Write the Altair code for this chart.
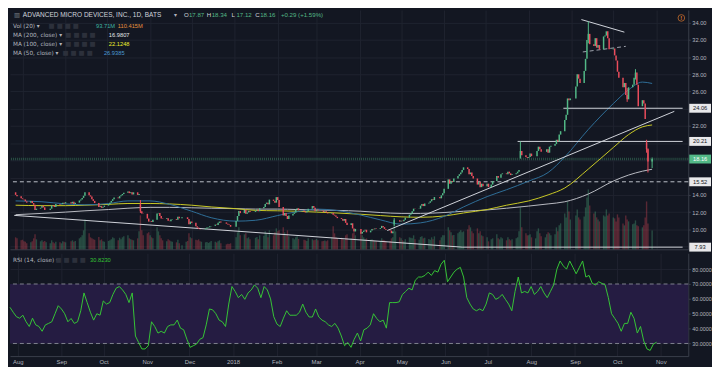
import altair as alt
import numpy as np
import pandas as pd

# ---------------- data ----------------
HOLIDAYS = ["2017-09-04", "2017-11-23", "2017-12-25", "2018-01-01", "2018-01-15",
            "2018-02-19", "2018-03-30", "2018-05-28", "2018-07-04", "2018-09-03"]

first_open = 14.3

close_2017_07 = [14.0, 13.85, 13.6]
close_2017_08 = [13.5, 13.45, 13.25, 13.1, 13.3, 13.05, 12.85, 12.25, 12.4, 12.5, 12.75, 12.55,
                 12.25, 12.25, 12.4, 12.8, 12.75, 12.6, 12.95, 12.85, 12.9, 13.1, 13.0]
close_2017_09 = [13.15, 13.0, 13.2, 12.95, 13.1, 13.35, 13.45, 13.65, 13.9, 14.3, 13.95, 13.8,
                 13.5, 13.3, 13.05, 12.6, 12.7, 12.5, 12.6, 12.75]
close_2017_10 = [12.95, 13.1, 13.3, 13.5, 13.7, 13.6, 13.85, 13.95, 14.1, 14.25, 14.4, 14.2,
                 14.3, 14.05, 14.3, 14.0, 14.1, 12.1, 11.85, 11.8, 11.25, 10.9]
close_2017_11 = [10.95, 10.85, 11.1, 11.85, 11.9, 11.55, 11.25, 11.2, 11.3, 11.0, 10.95, 11.15,
                 11.2, 11.1, 11.45, 11.3, 11.4, 11.4, 11.2, 10.6, 10.9]
close_2017_12 = [10.75, 10.35, 10.2, 10.05, 10.0, 10.0, 10.1, 10.2, 10.25, 10.35, 10.4, 10.55,
                 10.5, 10.75, 10.9, 10.8, 10.65, 10.55, 10.5, 10.3]
close_2018_01 = [10.98, 11.55, 12.12, 11.88, 12.28, 11.82, 11.96, 12.14, 12.02, 12.15, 12.3, 12.1,
                 12.45, 12.6, 12.95, 13.1, 12.9, 13.45, 13.3, 13.1, 13.74]
close_2018_02 = [13.4, 12.6, 11.6, 11.9, 11.55, 11.2, 11.6, 11.8, 11.95, 12.3, 12.45, 12.2,
                 12.05, 11.95, 12.1, 12.4, 12.7, 12.5, 12.1]
close_2018_03 = [12.3, 12.2, 12.15, 12.0, 12.1, 11.95, 11.85, 11.9, 11.7, 11.6, 11.45, 11.3,
                 11.2, 11.0, 11.2, 10.75, 10.5, 10.7, 10.1, 9.75, 10.05]
close_2018_04 = [9.5, 9.7, 9.85, 9.95, 9.65, 9.85, 10.05, 10.0, 10.1, 10.05, 10.15, 10.4,
                 10.25, 10.05, 9.95, 9.85, 9.55, 9.75, 11.05, 11.05, 10.9]
close_2018_05 = [11.0, 10.95, 11.1, 11.35, 11.7, 11.85, 12.1, 12.4, 12.35, 12.4, 12.75, 12.95,
                 12.7, 13.0, 13.1, 13.25, 13.5, 13.4, 13.75, 13.6, 13.95, 14.2]
close_2018_06 = [14.7, 15.8, 15.3, 15.6, 15.5, 15.9, 16.2, 16.4, 16.6, 16.9, 17.2, 17.0,
                 16.4, 16.6, 16.2, 15.9, 15.2, 15.5, 14.9, 15.3, 15.0]
close_2018_07 = [15.3, 14.9, 15.2, 15.6, 16.2, 16.0, 16.0, 16.4, 16.5, 16.4, 16.7, 16.5,
                 16.3, 16.4, 16.5, 16.7, 16.9, 19.1, 18.6, 18.4, 18.3]
close_2018_08 = [18.4, 18.8, 18.5, 18.5, 19.1, 19.6, 19.3, 19.0, 19.0, 19.3, 18.9, 19.6,
                 19.7, 19.9, 20.4, 20.2, 21.0, 21.4, 22.7, 23.3, 25.2, 25.0, 25.2]
close_2018_09 = [26.6, 28.0, 27.5, 27.0, 28.4, 29.8, 32.0, 32.7, 31.5, 31.3, 32.2, 31.1,
                 31.4, 30.9, 32.4, 32.5, 33.0, 32.2, 30.9]
close_2018_10 = [31.0, 30.2, 29.6, 28.3, 27.6, 26.5, 27.0, 25.6, 25.1, 26.5, 26.8, 27.6,
                 28.2, 26.8, 24.3, 25.0, 24.6, 22.8, 19.3, 17.87, 18.16]

vol_2017_07 = [60, 55, 45]
vol_2017_08 = [48, 40, 38, 30, 35, 40, 55, 75, 50, 40, 45, 38, 42, 35, 30, 45, 35, 30, 38, 35, 30, 40, 38]
vol_2017_09 = [35, 40, 45, 38, 42, 55, 60, 70, 95, 150, 80, 60, 55, 50, 48, 62, 45, 50, 40, 38]
vol_2017_10 = [42, 45, 50, 60, 55, 45, 58, 50, 60, 65, 70, 55, 50, 48, 45, 55, 90, 170, 95, 70, 80, 85]
vol_2017_11 = [70, 60, 55, 110, 90, 70, 55, 45, 40, 50, 45, 40, 38, 35, 48, 30, 20, 38, 42, 80, 60]
vol_2017_12 = [55, 48, 45, 50, 40, 38, 35, 36, 32, 35, 42, 38, 34, 40, 45, 30, 25, 28, 26, 30]
vol_2018_01 = [60, 85, 110, 70, 75, 80, 55, 60, 50, 58, 62, 50, 70, 68, 90, 80, 60, 95, 70, 85, 105]
vol_2018_02 = [90, 95, 110, 85, 70, 95, 65, 55, 50, 60, 65, 52, 48, 45, 42, 55, 50, 45, 48]
vol_2018_03 = [52, 45, 40, 42, 44, 40, 45, 60, 115, 80, 60, 55, 58, 52, 48, 70, 75, 55, 80, 85, 70]
vol_2018_04 = [85, 70, 60, 50, 55, 48, 50, 45, 42, 40, 42, 55, 48, 45, 40, 42, 55, 60, 150, 90, 60]
vol_2018_05 = [55, 45, 40, 50, 60, 58, 55, 70, 50, 48, 62, 65, 55, 58, 52, 48, 60, 50, 65, 45, 60, 70]
vol_2018_06 = [70, 110, 95, 85, 70, 72, 80, 88, 95, 85, 90, 100, 120, 110, 90, 80, 105, 80, 90, 70, 65]
vol_2018_07 = [60, 40, 50, 55, 75, 55, 50, 60, 55, 45, 60, 50, 45, 50, 55, 60, 90, 210, 110, 80, 70]
vol_2018_08 = [70, 75, 60, 55, 90, 105, 80, 65, 60, 75, 85, 80, 70, 75, 110, 90, 120, 130, 180, 160, 240, 190, 150]
vol_2018_09 = [170, 200, 160, 150, 165, 210, 260, 300, 220, 180, 190, 160, 150, 140, 170, 165, 200, 170, 180]
vol_2018_10 = [160, 155, 140, 175, 160, 130, 120, 170, 150, 140, 125, 130, 145, 120, 115, 110, 120, 160, 240, 130, 94]

open_fix_dates = ["2017-10-25", "2018-04-26", "2018-07-26", "2018-10-25"]
open_fix_values = [12.9, 10.6, 18.3, 20.1]

wick_dates = ["2017-10-25", "2018-04-26", "2018-07-26", "2018-09-13", "2018-10-11",
              "2018-10-17", "2018-10-25", "2018-10-26", "2018-10-29"]
wick_high = [13.4, 11.3, 20.2, 34.14, 26.4, 28.6, 20.4, 19.4, 18.34]
wick_low = [11.9, 10.4, 18.2, 31.6, 24.8, 27.4, 18.9, 16.6, 17.12]

ma_dates = ["2017-07-27", "2017-08-15", "2017-09-01", "2017-09-15", "2017-10-02", "2017-10-16",
            "2017-11-01", "2017-11-15", "2017-12-01", "2017-12-15", "2018-01-02", "2018-01-16",
            "2018-02-01", "2018-02-15", "2018-03-01", "2018-03-15", "2018-04-02", "2018-04-16",
            "2018-05-01", "2018-05-15", "2018-06-01", "2018-06-15", "2018-07-02", "2018-07-16",
            "2018-08-01", "2018-08-15", "2018-08-27", "2018-09-13", "2018-10-01", "2018-10-12",
            "2018-10-22", "2018-10-29"]
ma200 = [11.7, 11.85, 12.0, 12.15, 12.3, 12.45, 12.55, 12.55, 12.5, 12.45, 12.4, 12.35,
         12.35, 12.3, 12.25, 12.2, 12.1, 11.95, 11.85, 11.85, 11.95, 12.1, 12.25, 12.45,
         12.7, 12.95, 13.2, 14.1, 15.6, 16.3, 16.75, 16.98]
ma100 = [12.8, 12.75, 12.75, 12.8, 12.9, 13.0, 13.0, 12.95, 12.8, 12.6, 12.4, 12.2,
         12.15, 12.1, 12.0, 11.9, 11.75, 11.6, 11.45, 11.4, 11.55, 11.9, 12.3, 12.8,
         13.3, 14.0, 14.8, 17.0, 19.5, 21.0, 21.9, 22.12]
ma50 = [13.3, 13.2, 12.95, 12.85, 13.0, 13.3, 13.3, 12.9, 12.1, 11.35, 10.95, 11.05,
        11.6, 12.05, 12.35, 12.2, 11.65, 11.1, 10.6, 10.75, 11.5, 12.6, 13.8, 14.6,
        15.6, 16.6, 18.4, 21.6, 24.6, 26.2, 27.1, 26.94]

rsi_values = [
    54.3, 51, 48, 47, 49, 44.6, 41.4, 47, 42.5, 41.4,
    38.2, 42.5, 43.5, 44.6, 50, 55.4, 53.2, 50, 44.6, 46.8,
    43.5, 44.6, 52, 64, 57.5, 51, 45.7, 50, 49, 58.6,
    56.5, 57.5, 63, 67.2, 68.3, 66, 63, 57.5, 64, 35,
    30.6, 26.3, 26.3, 28.5, 44.6, 41.4, 37, 38.2, 37, 41.4,
    42.5, 42.5, 45.7, 40.3, 39.2, 32.8, 27.4, 28.5, 29.6, 32.8,
    33.9, 42.5, 53.2, 52.6, 50, 45.7, 44.6, 41.4, 56.5, 68.3,
    65, 60.8, 63, 59.7, 64, 66, 69.4, 67.2, 60.8, 68.3,
    66, 60, 48, 43, 41.4, 47, 52, 49, 49, 49,
    51, 56.5, 51, 47.8, 47.8, 53.2, 47.8, 45.7, 44.6, 42.5,
    41.4, 43.5, 40.3, 35, 28.5, 30.6, 27.4, 32.8, 37,
    31.7, 39.2, 40.3, 42.5, 50, 46.8, 44.6, 45.7, 40.3, 57.5,
    57.5, 57.5, 58, 63, 65, 67.2, 66, 72.6, 74.7, 74.7,
    75.8, 78, 75.8, 79, 78, 83.3, 86, 71.5, 74.7, 78,
    80, 81.2, 74.7, 60.8, 56.5, 53.2, 52, 53.2, 52, 56.5,
    64, 63, 59.7, 60.8, 63, 59.7, 56.5, 52, 65, 74.7,
    64, 65, 64, 68.3, 63, 65, 68.3, 64, 60.8, 65,
    69.4, 80, 85.5, 82.2, 80, 85.5, 81.2, 76.9, 81.2, 85.5,
    74.7, 75.8, 70.4, 69.4, 71.5, 70.4, 69.4, 60.8, 50, 46.8,
    43.5, 38.2, 43.5, 43.5, 51, 46.8, 37, 41.4, 31.7, 26.3,
    25.3, 29.6, 30.82]
rsi_band = [30, 70]
rsi_ticks = [30, 40, 50, 60, 70, 80]

# drawings on the price pane
seg_x1 = ["2017-07-26", "2018-06-14", "2018-04-21", "2018-09-08", "2018-07-24", "2018-08-26"]
seg_x2 = ["2018-06-14", "2018-11-20", "2018-11-14", "2018-10-09", "2018-11-20", "2018-11-20"]
seg_y1 = [11.62, 7.93, 9.86, 34.36, 20.21, 24.06]
seg_y2 = [7.93, 7.93, 23.70, 32.9, 20.21, 24.06]
dash_x1 = ["2018-09-09"]
dash_x2 = ["2018-10-10"]
dash_y1 = [30.6]
dash_y2 = [31.25]
hline_dashed = [15.52]
level_badges = [24.06, 20.21, 15.52, 7.93]
last_price = 18.16
price_ticks = [8, 10, 12, 14, 16, 18, 20, 22, 24, 26, 28, 30, 32, 34]

tick_months = [(2017, 8), (2017, 9), (2017, 10), (2017, 11), (2017, 12), (2018, 1), (2018, 2),
               (2018, 3), (2018, 4), (2018, 5), (2018, 6), (2018, 7), (2018, 8), (2018, 9),
               (2018, 10), (2018, 11)]

symbol_title = "ADVANCED MICRO DEVICES, INC., 1D, BATS"
ohlc_letters = ["O", "H", "L", "C"]
ohlc_values = ["17.87", "18.34", "17.12", "18.16"]
ohlc_change = "+0.29 (+1.59%)"
vol_label = "Vol (20)"
vol_values = ["93.71M", "110.415M"]
ma_labels = ["MA (200, close)", "MA (100, close)", "MA (50, close)"]
ma_value_texts = ["16.9807", "22.1248", "26.9385"]
rsi_label = "RSI (14, close)"
rsi_value_text = "30.8230"

# ---------------- style ----------------
BG = "#131722"
GRID = "#1f2330"
SEP = "#3a3e4a"
TEXT = "#b2b5be"
UP = "#53b987"
DOWN = "#eb4d5c"
C200 = "#b9bbc2"
C100 = "#c9c925"
C50 = "#2f6e98"
RSI_C = "#36c436"
BAND = "#251c42"
DRAW = "#d1d4dc"
FONT = "Liberation Sans"
W = 686
H_PRICE = 242
H_RSI = 104

# ---------------- build tables ----------------
def trading_days(start, end):
    return pd.bdate_range(start, end, freq="C", holidays=HOLIDAYS)

segments = [
    ("2017-07-27", "2017-07-31", close_2017_07, vol_2017_07),
    ("2017-08-01", "2017-08-31", close_2017_08, vol_2017_08),
    ("2017-09-01", "2017-09-30", close_2017_09, vol_2017_09),
    ("2017-10-01", "2017-10-31", close_2017_10, vol_2017_10),
    ("2017-11-01", "2017-11-30", close_2017_11, vol_2017_11),
    ("2017-12-01", "2017-12-31", close_2017_12, vol_2017_12),
    ("2018-01-01", "2018-01-31", close_2018_01, vol_2018_01),
    ("2018-02-01", "2018-02-28", close_2018_02, vol_2018_02),
    ("2018-03-01", "2018-03-31", close_2018_03, vol_2018_03),
    ("2018-04-01", "2018-04-30", close_2018_04, vol_2018_04),
    ("2018-05-01", "2018-05-31", close_2018_05, vol_2018_05),
    ("2018-06-01", "2018-06-30", close_2018_06, vol_2018_06),
    ("2018-07-01", "2018-07-31", close_2018_07, vol_2018_07),
    ("2018-08-01", "2018-08-31", close_2018_08, vol_2018_08),
    ("2018-09-01", "2018-09-30", close_2018_09, vol_2018_09),
    ("2018-10-01", "2018-10-29", close_2018_10, vol_2018_10),
]

rows = []
for start, end, closes, vols in segments:
    days = trading_days(start, end)
    n = len(closes)
    if len(days) != n:
        idx = np.linspace(0, len(days) - 1, n).round().astype(int)
        days = days[idx]
    vols = list(vols)[:n] + [vols[-1]] * max(0, n - len(vols))
    for d, c, v in zip(days, closes, vols):
        rows.append((d, c, v))
df = pd.DataFrame(rows, columns=["date", "close", "vol"])
df["open"] = [first_open] + df["close"].tolist()[:-1]
for d, o in zip(open_fix_dates, open_fix_values):
    df.loc[df["date"] == pd.Timestamp(d), "open"] = o

wk = pd.DataFrame({"date": pd.to_datetime(wick_dates), "high": wick_high, "low": wick_low})
wk = wk.merge(df[["date", "open", "close"]], on="date", how="left")

ma_df = pd.DataFrame({"date": pd.to_datetime(ma_dates), "ma200": ma200, "ma100": ma100, "ma50": ma50})
rsi_df = pd.DataFrame({"date": pd.date_range("2017-07-26 12:00", "2018-10-29", periods=len(rsi_values)),
                       "rsi": rsi_values})
seg_df = pd.DataFrame({"x1": pd.to_datetime(seg_x1), "x2": pd.to_datetime(seg_x2), "y1": seg_y1, "y2": seg_y2})
dash_df = pd.DataFrame({"x1": pd.to_datetime(dash_x1), "x2": pd.to_datetime(dash_x2), "y1": dash_y1, "y2": dash_y2})
badge_df = pd.DataFrame({"p": level_badges, "lab": [f"{v:.2f}" for v in level_badges]})
last_df = pd.DataFrame({"p": [last_price], "lab": [f"{last_price:.2f}"]})

# ---------------- scales & axes ----------------
X_DOMAIN = [alt.DateTime(year=2017, month=7, date=26, hours=12),
            alt.DateTime(year=2018, month=11, date=20, hours=12)]
xscale = alt.Scale(domain=X_DOMAIN, nice=False)
month_ticks = [alt.DateTime(year=y, month=m, date=1) for (y, m) in tick_months]

x_axis_top = alt.Axis(values=month_ticks, labels=False, ticks=False, domain=True, domainColor=SEP,
                      grid=True, gridColor=GRID, title=None)
x_axis_bottom = alt.Axis(values=month_ticks, ticks=False, domain=True, domainColor=SEP, grid=True,
                         gridColor=GRID, title=None, labelFontSize=6, labelColor=TEXT, labelPadding=3,
                         labelOverlap=False, labelFlush=False,
                         labelExpr="month(datum.value) == 0 ? timeFormat(datum.value, '%Y') : timeFormat(datum.value, '%b')")

pscale = alt.Scale(domain=[7.68, 35.47], nice=False, zero=False)
price_axis = alt.Axis(orient="right", values=price_ticks, grid=True, gridColor=GRID, ticks=True, tickSize=2,
                      tickColor=SEP, domain=True, domainColor=SEP, labelColor=TEXT, labelFontSize=5.8,
                      labelPadding=1.5, title=None,
                      labelExpr="indexof([8, 16, 18, 20, 24], datum.value) >= 0 ? '' : format(datum.value, '.2f')")
vscale = alt.Scale(domain=[0, 1200], nice=False, zero=True)
rscale = alt.Scale(domain=[21.5, 90.7], nice=False, zero=False)
rsi_axis = alt.Axis(orient="right", values=rsi_ticks, format=".4f", grid=True, gridColor=GRID, ticks=True,
                    tickSize=2, tickColor=SEP, domain=True, domainColor=SEP, labelColor=TEXT,
                    labelFontSize=5.5, labelPadding=1.5, title=None)


def X(field):
    return alt.X(field, type="temporal", scale=xscale, axis=x_axis_top)


def PY(field):
    return alt.Y(field, type="quantitative", scale=pscale, axis=price_axis)


def T(s, x, y, color=TEXT, size=6.0, align="left", weight="normal", font=FONT):
    return alt.Chart(pd.DataFrame({"t": [s]})).mark_text(
        align=align, baseline="middle", fontSize=size, color=color, font=font, fontWeight=weight
    ).encode(text="t:N", x=alt.value(x), y=alt.value(y))


updown = alt.condition("datum.close >= datum.open", alt.value(UP), alt.value(DOWN))

# ---------------- price pane ----------------
vol_chart = alt.Chart(df).mark_bar(width=1.4, opacity=0.33).encode(
    x=X("date"), y=alt.Y("vol:Q", scale=vscale, axis=None), color=updown)

price_layers = []
price_layers.append(alt.Chart(pd.DataFrame({"p": hline_dashed})).mark_rule(
    color=DRAW, strokeDash=[4, 3], strokeWidth=0.9).encode(y=PY("p")))
price_layers.append(alt.Chart(last_df).mark_rule(color=UP, strokeDash=[1, 1], strokeWidth=2.5, opacity=0.35
                                                 ).encode(y=PY("p")))
for col, colr in [("ma200", C200), ("ma100", C100), ("ma50", C50)]:
    price_layers.append(alt.Chart(ma_df).mark_line(color=colr, strokeWidth=1, interpolate="monotone").encode(
        x=X("date"), y=PY(col)))
price_layers.append(alt.Chart(seg_df).mark_rule(color=DRAW, strokeWidth=1).encode(
    x=X("x1"), x2="x2:T", y=PY("y1"), y2="y2:Q"))
price_layers.append(alt.Chart(dash_df).mark_rule(color="#9fa3ad", strokeWidth=1, strokeDash=[4, 3]).encode(
    x=X("x1"), x2="x2:T", y=PY("y1"), y2="y2:Q"))
price_layers.append(alt.Chart(wk).mark_rule(strokeWidth=1).encode(
    x=X("date"), y=PY("low"), y2="high:Q", color=updown))
price_layers.append(alt.Chart(df).mark_bar(width=1.5).encode(
    x=X("date"), y=PY("open"), y2="close:Q", color=updown))
# axis badges
price_layers.append(alt.Chart(badge_df).mark_tick(orient="horizontal", thickness=9, size=22, color="#e8e8ea",
                                                  opacity=1).encode(x=alt.value(W + 12), y=PY("p")))
price_layers.append(alt.Chart(badge_df).mark_text(fontSize=5.8, color="#131722", font=FONT).encode(
    x=alt.value(W + 12), y=PY("p"), text="lab:N"))
price_layers.append(alt.Chart(last_df).mark_tick(orient="horizontal", thickness=9, size=22, color=UP,
                                                 opacity=1).encode(x=alt.value(W + 12), y=PY("p")))
price_layers.append(alt.Chart(last_df).mark_text(fontSize=5.8, color="#ffffff", font=FONT).encode(
    x=alt.value(W + 12), y=PY("p"), text="lab:N"))

# header texts
BOX = "■  ■  ■  ■"
hdr = [
    T("▥", 4, 5, color="#7c808a", size=6.5, font="DejaVu Sans"),
    T(symbol_title, 13, 5, color="#d1d4dc", size=6.6),
    T("▾", 166, 5, color=TEXT, size=6, font="DejaVu Sans"),
]
ox = [176, 199, 224, 248]
for k, v, x0 in zip(ohlc_letters, ohlc_values, ox):
    hdr.append(T(k, x0, 5, color="#d1d4dc", size=6.2))
    hdr.append(T(v, x0 + 5, 5, color=UP, size=6.2))
hdr.append(T(ohlc_change, 274, 5, color=UP, size=6.2))
hdr += [
    T(vol_label + " ▾", 3, 16, size=5.8, font="DejaVu Sans"),
    T(BOX, 39, 16, color="#2c303b", size=6.5, font="DejaVu Sans"),
    T(vol_values[0], 87, 16, color="#3fb5a2", size=5.8),
    T(vol_values[1], 109, 16, color="#e8913f", size=5.8),
]
for i, (lab, val, colr, bx, vx) in enumerate(zip(ma_labels, ma_value_texts, ["#e6e7ea", "#eded2e", "#4c9ad4"],
                                                 [56, 56, 53], [100, 100, 95])):
    yy = 25 + 9 * i
    hdr.append(T(lab + " ▾", 3, yy, size=5.8, font="DejaVu Sans"))
    hdr.append(T(BOX, bx, yy, color="#2c303b", size=6.5, font="DejaVu Sans"))
    hdr.append(T(val, vx, yy, color=colr, size=5.8))
# warning icon
hdr.append(alt.Chart(pd.DataFrame({"t": ["!"]})).mark_point(shape="circle", size=45, color="#e07a2e",
                                                            strokeWidth=1, filled=False).encode(
    x=alt.value(679), y=alt.value(8)))
hdr.append(T("!", 679, 8, color="#e07a2e", size=6, align="center", weight="bold"))

price_inner = alt.layer(*price_layers, *hdr)
price_chart = alt.layer(vol_chart, price_inner).resolve_scale(y="independent").properties(
    width=W, height=H_PRICE)

# ---------------- RSI pane ----------------
band = alt.Chart(pd.DataFrame({"lo": [rsi_band[0]], "hi": [rsi_band[1]]})).mark_rect(color=BAND).encode(
    x=alt.value(0), x2=alt.value(W), y=alt.Y("lo:Q", scale=rscale, axis=rsi_axis), y2="hi:Q")
bounds = alt.Chart(pd.DataFrame({"lvl": rsi_band})).mark_rule(color="#8c8f9a", strokeDash=[4, 3],
                                                              strokeWidth=0.9).encode(
    y=alt.Y("lvl:Q", scale=rscale, axis=rsi_axis))
rsi_line = alt.Chart(rsi_df).mark_line(color=RSI_C, strokeWidth=1).encode(
    x=alt.X("date:T", scale=xscale, axis=x_axis_bottom), y=alt.Y("rsi:Q", scale=rscale, axis=rsi_axis))
rsi_txt = [
    T(rsi_label + " ▾", 3, 7, size=5.8, font="DejaVu Sans"),
    T(BOX, 46, 7, color="#2c303b", size=6.5, font="DejaVu Sans"),
    T(rsi_value_text, 81, 7, color=RSI_C, size=5.8),
]
rsi_chart = alt.layer(band, bounds, rsi_line, *rsi_txt).properties(width=W, height=H_RSI)

chart = alt.vconcat(price_chart, rsi_chart, spacing=1).properties(
    padding=0, background=BG
).configure_view(stroke=None).configure_axis(labelFont=FONT)

chart.save("out.html", embed_options={"renderer": "svg", "actions": False})
